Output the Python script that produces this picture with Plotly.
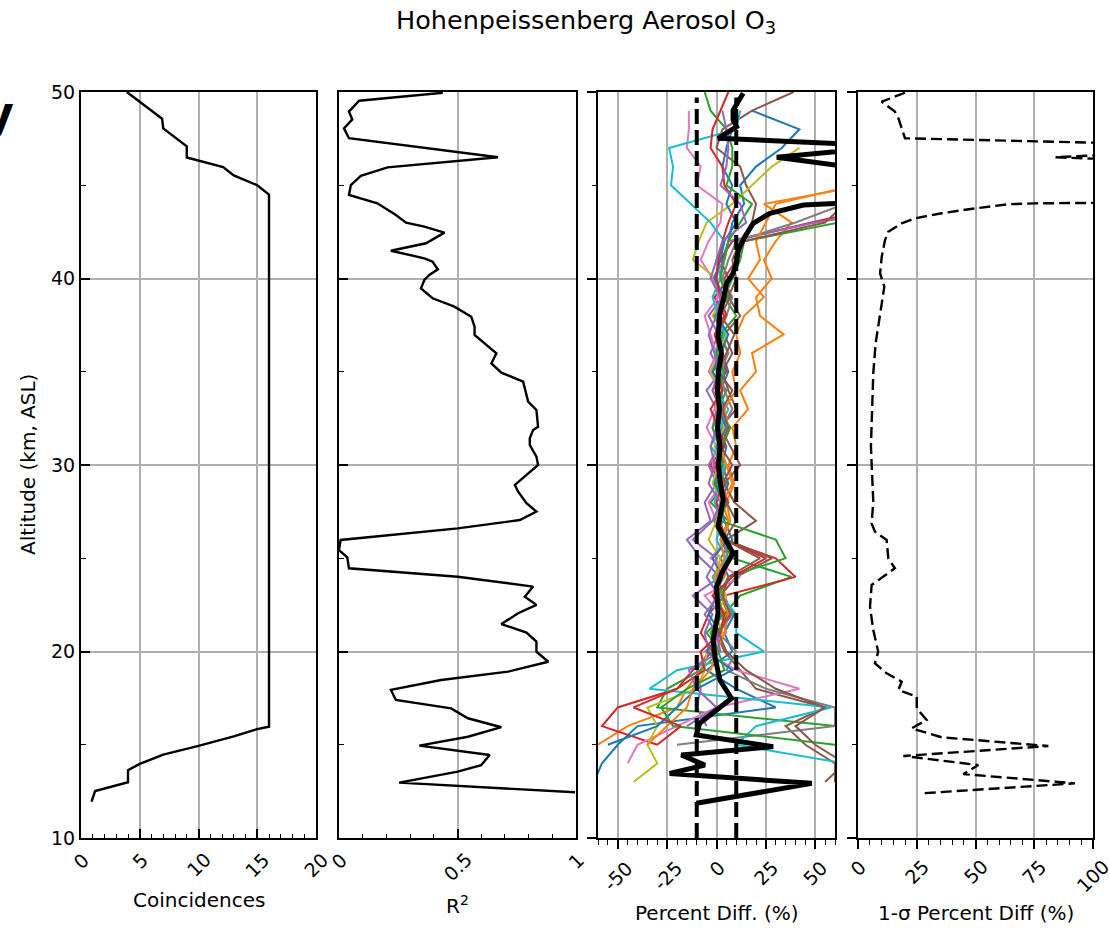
import plotly.graph_objects as go

# ---------------- data ----------------
coinc_alt = [50.0, 48.57, 48.05, 47.09, 46.49, 45.97, 45.53, 45.0, 44.5, 15.97,
             15.84, 15.45, 14.94, 14.47, 13.97, 13.64, 12.99, 12.52, 11.95]
coinc_val = [3.9, 6.9, 7.0, 9.0, 9.0, 12.1, 13.0, 15.0, 16.0, 16.0,
             15.0, 13.0, 10.0, 7.0, 5.0, 4.0, 4.0, 1.2, 0.9]

r2_alt = [49.96, 49.53, 48.95, 48.53, 48.05, 47.52, 46.5, 45.96, 45.5, 45.01,
          44.48, 44.03, 43.4, 42.99, 42.78, 42.46, 41.89, 41.49, 41.08, 40.9,
          40.49, 40.19, 39.92, 39.47, 38.94, 38.49, 37.95, 37.42, 36.97, 35.99,
          35.45, 34.95, 34.47, 33.4, 32.95, 32.05, 31.88, 31.43, 31.07, 30.45,
          30.0, 29.46, 28.93, 28.57, 27.95, 27.5, 27.05, 26.6, 25.98, 25.44,
          25.05, 24.46, 24.01, 23.48, 22.94, 22.5, 22.05, 21.47, 21.01, 20.53,
          19.99, 19.45, 18.92, 18.47, 17.94, 17.4, 16.95, 16.42, 15.94, 15.43,
          14.95, 14.45, 13.91, 13.56, 12.97, 12.45]
r2_val = [0.438, 0.085, 0.042, 0.056, 0.021, 0.042, 0.671, 0.205, 0.092, 0.05,
          0.042, 0.162, 0.24, 0.283, 0.36, 0.445, 0.367, 0.219, 0.36, 0.395,
          0.417, 0.381, 0.36, 0.346, 0.395, 0.487, 0.558, 0.572, 0.572, 0.664,
          0.643, 0.685, 0.777, 0.798, 0.833, 0.84, 0.819, 0.805, 0.805, 0.833,
          0.84, 0.791, 0.742, 0.756, 0.791, 0.833, 0.763, 0.501, 0.007, 0.0,
          0.035, 0.042, 0.501, 0.819, 0.784, 0.833, 0.756, 0.685, 0.791, 0.833,
          0.833, 0.883, 0.713, 0.431, 0.219, 0.24, 0.473, 0.544, 0.685, 0.544,
          0.339, 0.636, 0.6, 0.501, 0.254, 0.996]

# individual coincident profiles, percent difference on a 1 km grid
altitude_km = [50, 49, 48, 47, 46, 45, 44, 43, 42, 41, 40, 39, 38, 37, 36, 35, 34, 33, 32, 31,
               30, 29, 28, 27, 26, 25, 24, 23, 22, 21, 20, 19, 18, 17, 16, 15, 14, 13, 12]
N = None
prof_01 = [N, 18, 42, 33, 20, 12, 14, 8, 6, 3, 2, 5, 1, 4, 3, 6, 2, 4, 1, 5,
           3, 6, 2, 4, 8, 2, 6, 3, 9, 4, 8, -5, 10, 30, -40, -50, -58, -62, N]
prof_02 = [N, N, N, N, N, 75, 24, 38, 30, 24, 28, 20, 22, 34, 18, 20, 12, 16, 8, 10,
           6, 9, 5, 7, 3, 6, 4, -2, 5, 2, -4, -8, -15, -20, -45, -60, N, N, N]
prof_03 = [N, N, N, N, N, 95, 80, 62, 14, 12, 8, 4, 10, 2, 6, -2, 5, 1, 7, 3,
           0, 5, -3, 6, 2, 8, 38, 12, 4, -5, 2, -8, -25, -30, 60, N, N, N, N]
prof_04 = [N, N, N, N, N, N, 90, 48, 8, 2, 6, -1, 4, 0, 3, 5, -2, 2, 0, 4,
           -3, 2, 6, -1, 3, 30, 40, 4, -4, -8, -2, -12, -20, -50, -58, -30, N, N, N]
prof_05 = [N, N, N, N, N, N, 110, 50, 6, 4, -2, 3, -4, 1, -3, 2, -5, 0, -2, 1,
           -4, 0, -6, -3, -15, -8, 2, -12, -2, -6, -4, -10, -8, -10, -5, N, N, N, N]
prof_06 = [39, 18, 3, 0, 12, 15, 20, 18, 12, 8, 10, 6, 12, 4, 8, 3, 6, 10, 2, 7,
           12, 4, 9, 20, 5, 28, 10, 2, 6, 0, 4, 12, 20, 55, 35, 45, 60, 60, N]
prof_07 = [N, -14, -14, -15, -8, -10, 3, 2, -4, -8, -2, 1, -6, -3, 0, -4, 2, -1, -5, 0,
           -2, 3, -4, 0, 5, -3, 12, -6, 2, 5, -6, 10, 42, 0, -20, -40, -45, N, N]
prof_08 = [N, N, N, N, N, 100, 65, 40, 10, 6, 3, 8, 5, 1, 6, 2, 4, 8, 3, 0,
           5, 2, 4, -1, 3, 6, 0, 4, 8, 1, 10, 5, 25, 60, 60, -20, N, N, N]
prof_09 = [N, N, N, 42, 28, 18, 8, -5, -9, -12, 0, 3, -2, 5, 1, -3, 2, 0, 4, -1,
           1, -2, 3, 0, -4, 2, -1, 5, 0, 3, -5, -6, -10, -35, -30, -35, -30, -42, N]
prof_10 = [N, 12, 10, -24, -22, -23, -13, -3, 4, 0, 2, -2, 1, 4, -1, 3, 0, 6, 2, -3,
           4, 1, -1, 3, 0, 5, -2, 2, 10, 10, 24, -20, -34, 58, 20, 10, 65, N, N]
prof_11 = [N, N, 8, 5, 3, 8, 5, 10, 4, 2, -1, 4, 0, 6, 2, -2, 3, 1, 5, 0,
           2, -1, 4, 1, 6, -2, 3, 0, -4, 2, -5, 8, -10, -20, -30, -55, N, N, N]
prof_12 = [N, N, N, N, N, 70, 30, 25, 20, 22, 16, 24, 14, 10, 12, 8, 10, 4, 6, 2,
           5, 8, 3, 6, 2, 4, -1, 3, 6, 4, 0, -3, -12, -15, -25, -35, N, N, N]
prof_13 = [-6, -3, 5, 8, 8, 5, 18, 12, 6, 4, 2, 6, -1, 3, 0, 4, 1, 3, -2, 2,
           3, 0, 5, 2, 30, 35, 6, 1, 3, -3, 1, 4, -15, -28, -22, 60, N, N, N]
prof_14 = [6, 2, -2, -3, 3, 4, 10, 6, 3, 1, 0, 2, 5, -1, 2, 0, 3, -3, 1, 4,
           -1, 3, 0, 2, 4, 25, 8, -2, 4, 2, -8, -6, -20, -42, -18, -30, N, N, N]
prof_15 = [N, 3, 5, 6, 5, 2, 12, 15, 3, 0, -3, 2, 0, -4, -1, 1, -2, 4, 0, -3,
           -1, -4, 2, -2, -12, 0, -5, 1, -6, 0, 2, -14, -10, 0, -15, N, N, N, N]
prof_16 = [N, N, N, N, N, N, 65, 55, 14, 10, 4, 7, 2, 9, 5, 1, 8, 3, 6, 2,
           8, 3, 5, 10, 4, 22, 6, 3, 7, 1, 5, 15, 30, 55, 40, 50, 65, 55, N]
profiles = [prof_01, prof_02, prof_03, prof_04, prof_05, prof_06, prof_07, prof_08,
            prof_09, prof_10, prof_11, prof_12, prof_13, prof_14, prof_15, prof_16]

mean_alt = [49.93, 49.03, 48.5, 48.14, 47.52, 47.1, 46.5, 45.6, 45.0, 44.1,
            43.94, 43.5, 42.96, 42.24, 41.53, 40.9, 40.28, 39.74, 38.85, 38.13,
            36.88, 35.99, 35.0, 34.0, 33.0, 32.0, 31.0, 30.0, 29.0, 28.12,
            26.7, 25.27, 24.37, 23.48, 22.05, 20.62, 19.72, 18.47, 17.49, 16.68,
            16.15, 15.52, 14.9, 14.45, 13.91, 13.46, 12.93, 11.86]
mean_val = [13.5, 8.4, 8.4, 10.2, 0.8, 90.0, 30.5, 95.0, 110.0, 75.0,
            44.0, 27.1, 18.6, 14.4, 11.0, 10.2, 8.4, 5.1, 3.4, 1.7,
            0.8, 2.5, 1.0, 0.5, 1.5, 0.5, 1.8, 1.0, 2.0, 3.4,
            0.8, 8.4, 3.4, 0.0, 0.8, -1.7, -0.8, 1.7, 7.6, -1.7,
            -8.5, -10.2, 28.7, -17.8, -5.9, -23.7, 48.2, -10.2]

bound_alt = [10.0, 49.7]
bound_lo = [-10, -10]
bound_hi = [10, 10]

sig_alt = [49.96, 49.48, 48.95, 48.59, 47.52, 47.05, 46.5, 45.96, 45.0, 44.15,
           44.03, 43.98, 43.76, 43.5, 43.23, 42.96, 42.51, 42.06, 41.17, 40.27,
           39.56, 38.13, 36.53, 34.92, 33.0, 31.0, 29.5, 28.03, 26.87, 26.42,
           25.98, 24.99, 24.46, 23.57, 22.4, 21.15, 19.99, 19.37, 18.83, 18.38,
           17.94, 17.58, 16.95, 16.33, 15.88, 15.4, 14.93, 14.4, 13.91, 13.43,
           12.93, 12.4]
sig_val = [20.0, 10.1, 15.7, 17.2, 20.0, 180.0, 84.0, 200.0, 250.0, 200.0,
           75.3, 64.0, 49.8, 35.6, 24.3, 18.6, 12.9, 11.5, 10.1, 9.4,
           11.2, 9.4, 7.5, 6.5, 6.0, 5.5, 6.0, 6.5, 5.8, 7.2,
           12.2, 12.9, 15.7, 5.8, 5.1, 6.5, 8.6, 7.2, 12.2, 18.6,
           17.2, 25.0, 25.0, 29.2, 22.8, 35.6, 81.0, 19.3, 51.2, 44.8,
           92.3, 27.8]

alt_ticks = [10, 20, 30, 40, 50]
coinc_ticks = [0, 5, 10, 15, 20]
coinc_labels = ["0", "5", "10", "15", "20"]
r2_ticks = [0, 0.5, 1]
r2_labels = ["0", "0.5", "1"]
pd_ticks = [-50, -25, 0, 25, 50]
pd_labels = ["-50", "-25", "0", "25", "50"]
sig_ticks = [0, 25, 50, 75, 100]
sig_labels = ["0", "25", "50", "75", "100"]

# ---------------- style / layout ----------------
FONT = "DejaVu Sans"
TAB10 = ["#1f77b4", "#ff7f0e", "#2ca02c", "#d62728", "#9467bd",
         "#8c564b", "#e377c2", "#7f7f7f", "#bcbd22", "#17becf"]
W, H = 1109, 928
ML, MR, MT, MB = 81, 16, 92, 90
PW = W - ML - MR
PANELS = [(81, 316), (339, 576), (598, 835), (858, 1093)]


def dom(a, b):
    return [(a - ML) / PW, (b - ML) / PW]


fig = go.Figure()

fig.add_trace(go.Scatter(x=coinc_val, y=coinc_alt, mode="lines",
                         line=dict(color="black", width=2.4), xaxis="x", yaxis="y"))
fig.add_trace(go.Scatter(x=r2_val, y=r2_alt, mode="lines",
                         line=dict(color="black", width=2.4), xaxis="x2", yaxis="y2"))
for i, p in enumerate(profiles):
    fig.add_trace(go.Scatter(x=p, y=altitude_km, mode="lines", connectgaps=False,
                             line=dict(color=TAB10[i % 10], width=2), xaxis="x3", yaxis="y3"))
for b in (bound_lo, bound_hi):
    fig.add_trace(go.Scatter(x=b, y=bound_alt, mode="lines",
                             line=dict(color="black", width=4, dash="15px,6px"),
                             xaxis="x3", yaxis="y3"))
fig.add_trace(go.Scatter(x=mean_val, y=mean_alt, mode="lines",
                         line=dict(color="black", width=5), xaxis="x3", yaxis="y3"))
fig.add_trace(go.Scatter(x=sig_val, y=sig_alt, mode="lines",
                         line=dict(color="black", width=2.4, dash="11px,5px"),
                         xaxis="x4", yaxis="y4"))

GRID = "#b0b0b0"
x_specs = [
    ([0, 20], 5, 1, "inside"),
    ([0, 1], 0.5, 0.1, "inside"),
    ([-60, 60], 25, 5, "outside"),
    ([0, 100], 25, 5, "outside"),
]
tickvals_x = [coinc_ticks, r2_ticks, pd_ticks, sig_ticks]
layout = dict(width=W, height=H, margin=dict(l=ML, r=MR, t=MT, b=MB),
              paper_bgcolor="white", plot_bgcolor="white", showlegend=False,
              font=dict(family=FONT, size=19, color="black"))
for i, ((rng, dt, mdt, tk), (a, b)) in enumerate(zip(x_specs, PANELS)):
    n = "" if i == 0 else str(i + 1)
    layout["xaxis" + n] = dict(
        domain=dom(a, b), range=rng, anchor="y" + n, tickvals=tickvals_x[i],
        showticklabels=False, ticks=tk, ticklen=9, tickwidth=1.6, tickcolor="black",
        showgrid=True, gridcolor=GRID, gridwidth=1.6, zeroline=False,
        showline=True, mirror=True, linecolor="black", linewidth=2,
        minor=dict(dtick=mdt, ticks=tk, ticklen=4.5, tickwidth=1.2, tickcolor="black",
                   showgrid=False))
    layout["yaxis" + n] = dict(
        domain=[0, 1], range=[10, 50], anchor="x" + n, tickvals=alt_ticks,
        showticklabels=(i == 0), tickfont=dict(family=FONT, size=19),
        ticks=tk, ticklen=9, tickwidth=1.6, tickcolor="black",
        showgrid=True, gridcolor=GRID, gridwidth=1.6, zeroline=False,
        showline=True, mirror=True, linecolor="black", linewidth=2,
        minor=dict(dtick=5, ticks=tk, ticklen=4.5, tickwidth=1.2, tickcolor="black",
                   showgrid=False))
fig.update_layout(**layout)

ann = []
labels_x = [coinc_labels, r2_labels, pd_labels, sig_labels]
pads = [8, 8, 16, 15]
for i in range(4):
    xr = "x" if i == 0 else "x%d" % (i + 1)
    for v, t in zip(tickvals_x[i], labels_x[i]):
        ann.append(dict(x=v, xref=xr, y=0, yref="paper", yshift=-pads[i],
                        xanchor="center", yanchor="top", textangle=-45, text=t,
                        showarrow=False, font=dict(family=FONT, size=19)))

titles = [("Coincidences", 62), ("R<sup>2</sup>", 67),
          ("Percent Diff. (%)", 75), ("1-σ Percent Diff (%)", 75)]
for (t, dy), (a, b) in zip(titles, PANELS):
    ann.append(dict(x=((a + b) / 2 - ML) / PW, xref="paper", y=0, yref="paper",
                    yshift=-dy, xanchor="center", yanchor="middle", text=t,
                    showarrow=False, font=dict(family=FONT, size=20)))

ann.append(dict(x=(28 - ML) / PW, xref="paper", y=(H - MB - 465) / (H - MT - MB), yref="paper",
                xanchor="center", yanchor="middle", textangle=-90,
                text="Altitude (km, ASL)", showarrow=False, font=dict(family=FONT, size=20)))
ann.append(dict(x=(586 - ML) / PW, xref="paper", y=(H - MB - 22) / (H - MT - MB), yref="paper",
                xanchor="center", yanchor="middle",
                text="Hohenpeissenberg Aerosol O<sub>3</sub>", showarrow=False,
                font=dict(family=FONT, size=25.5)))
ann.append(dict(x=(16 - ML) / PW, xref="paper", y=(H - MB - 113) / (H - MT - MB), yref="paper",
                xanchor="right", yanchor="middle", text="<b>y</b>", showarrow=False,
                font=dict(family=FONT, size=46)))
fig.update_layout(annotations=ann)

fig.write_html("out.html")
